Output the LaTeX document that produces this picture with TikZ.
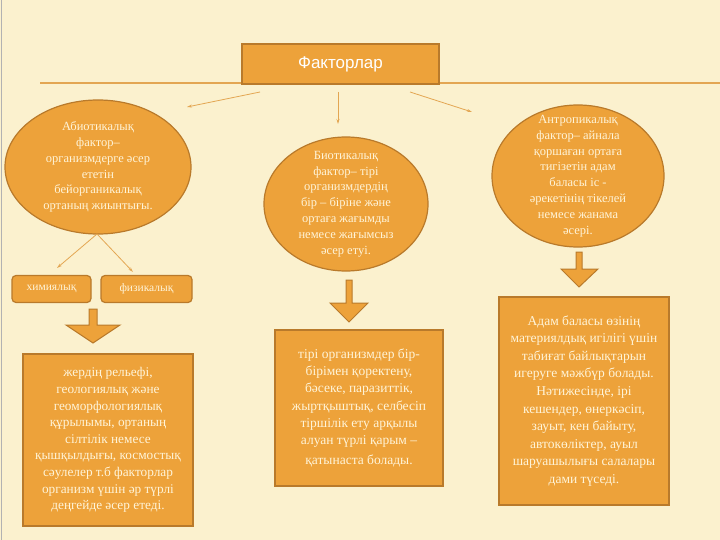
\documentclass[tikz,border=0pt]{standalone}
\usepackage{fontspec}
\setmainfont{Liberation Serif}
\newfontfamily\titlefont{Liberation Sans}
\usetikzlibrary{shapes.geometric,arrows.meta}

\definecolor{bgcream}{HTML}{FBF1CE}
\definecolor{factorfill}{HTML}{EDA23A}
\definecolor{factoredge}{HTML}{B97A2B}
\definecolor{factortext}{HTML}{FFF4D8}
\definecolor{linkline}{HTML}{E3A652}

\tikzset{
  factorbubble/.style={ellipse, draw=factoredge, line width=1.2pt, fill=factorfill,
    inner sep=0pt},
  bubbletext/.style={align=center, text=factortext, inner sep=0pt,
    font=\fontsize{12.5}{15.8}\selectfont},
  factorbox/.style={rectangle, draw=factoredge, line width=1.2pt, fill=factorfill,
    inner sep=0pt, align=center, text=factortext},
  kindbox/.style={rectangle, rounded corners=4pt, draw=factoredge, line width=1.2pt,
    fill=factorfill, inner sep=0pt, text=factortext, font=\fontsize{11.5}{13}\selectfont},
  link/.style={draw=linkline, line width=0.8pt, -{Stealth[length=5pt,width=3pt]}},
  blockarrow/.style={draw=factoredge, line width=1pt, fill=factorfill, line join=miter}
}

\begin{document}
\begin{tikzpicture}[x=1pt, y=-1pt]
    % Background of the slide
    \fill[bgcream] (0,0) rectangle (720,540);
    \useasboundingbox (0,0) rectangle (720,540);
    \draw[gray!60, line width=1pt] (1,0) -- (1,540);

    % Rule under the title
    \draw[linkline, line width=1.6pt] (40,83) -- (720,83);

    % Title box
    \node[factorbox, minimum width=197pt, minimum height=40pt, text=white,
      font=\titlefont\fontsize{17}{19}\selectfont] (title) at (340.5,64) {Факторлар};

    % The three factors
    \node[factorbubble, minimum width=186pt, minimum height=134pt] (abiotic) at (98,167) {};
    \node[bubbletext] at (abiotic.center)
      {Абиотикалық\\ фактор–\\ организмдерге әсер\\ ететін\\ бейорганикалық\\ ортаның жиынтығы.};
    \node[factorbubble, minimum width=164pt, minimum height=134pt] (biotic) at (346,204) {};
    \node[bubbletext] at (biotic.center)
      {Биотикалық\\ фактор– тірі\\ организмдердің\\ бір – біріне және\\ ортаға жағымды\\ немесе жағымсыз\\ әсер етуі.};
    \node[factorbubble, minimum width=172pt, minimum height=142pt] (anthrop) at (578,176) {};
    \node[bubbletext] at (anthrop.center)
      {Антропикалық\\ фактор– айнала\\ қоршаған ортаға\\ тигізетін адам\\ баласы іс -\\ әрекетінің тікелей\\ немесе жанама\\ әсері.};

    % Arrows from the title
    \coordinate (startL) at (260,92);
    \coordinate (startM) at (338,92);
    \coordinate (startR) at (410,92);
    \coordinate (endL) at (187,107);
    \coordinate (endM) at (338,124);
    \coordinate (endR) at (472,112);
    \draw[link] (startL) -- (endL);
    \draw[link] (startM) -- (endM);
    \draw[link] (startR) -- (endR);

    % Kinds of abiotic factors
    \node[kindbox, minimum width=79pt, minimum height=27pt] (chem) at (51.5,289) {химиялық};
    \node[kindbox, minimum width=91pt, minimum height=27pt] (phys) at (146.5,289) {физикалық};
    \coordinate (split) at (97,234);
    \coordinate (toChem) at (57,268);
    \coordinate (toPhys) at (133,272);
    \draw[link] (split) -- (toChem);
    \draw[link] (split) -- (toPhys);

    % Block arrows
    \draw[blockarrow] (89,309) -- (97,309) -- (97,325) -- (120,325) -- (93,343)
      -- (66,325) -- (89,325) -- cycle;
    \draw[blockarrow] (346,280) -- (352,280) -- (352,303) -- (368,303) -- (349,322)
      -- (330,303) -- (346,303) -- cycle;
    \draw[blockarrow] (576,252) -- (582,252) -- (582,269) -- (598,269) -- (579,287)
      -- (561,269) -- (576,269) -- cycle;

    % Explanation boxes
    \node[factorbox, minimum width=170pt, minimum height=172pt,
      font=\fontsize{13.3}{16.6}\selectfont] (abioticText) at (108,440)
      {жердің рельефі,\\ геологиялық және\\ геоморфологиялық\\ құрылымы, ортаның\\ сілтілік немесе\\ қышқылдығы, космостық\\ сәулелер т.б факторлар\\ организм үшін әр түрлі\\ деңгейде әсер етеді.};
    \node[factorbox, minimum width=168pt, minimum height=156pt,
      font=\fontsize{13.5}{17.3}\selectfont] (bioticText) at (359,408)
      {тірі организмдер бір-\\ бірімен қоректену,\\ бәсеке, паразиттік,\\ жыртқыштық, селбесіп\\ тіршілік ету арқылы\\ алуан түрлі қарым –\\[3pt] қатынаста болады.};
    \node[factorbox, minimum width=170pt, minimum height=208pt,
      font=\fontsize{13.5}{17.6}\selectfont] (anthropText) at (584,401)
      {Адам баласы өзінің\\ материялдық игілігі үшін\\ табиғат байлықтарын\\ игеруге мәжбүр болады.\\ Нәтижесінде, ірі\\ кешендер, өнеркәсіп,\\ зауыт, кен байыту,\\ автокөліктер, ауыл\\ шаруашылығы салалары\\ дами түседі.};
\end{tikzpicture}
\end{document}
